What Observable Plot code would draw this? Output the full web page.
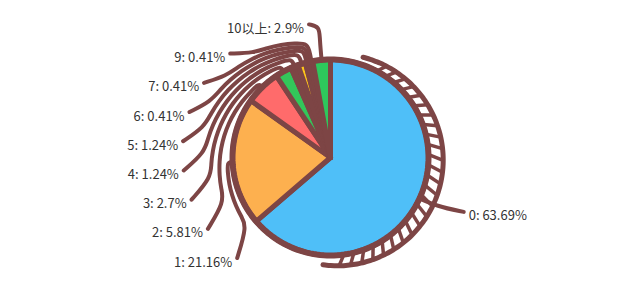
<!DOCTYPE html>
<html><head><meta charset="utf-8">
<script src="https://cdn.jsdelivr.net/npm/d3@7"></script>
<script src="https://cdn.jsdelivr.net/npm/@observablehq/plot@0.6"></script>
<style>body{margin:0;background:#fff}</style>
</head><body><div id="chart"></div>
<script>
const categories = ["0","1","2","3","4","5","6","7","9","10以上"];
const percents = [63.69,21.16,5.81,2.7,1.24,1.24,0.41,0.41,0.41,2.9];
const colors = ["#4fbff8","#fdb04f","#ff6b6b","#33c65a","#7d4545","#ffc61a","#7d4545","#7d4545","#7d4545","#2ec85c"];
const labels = categories.map((c,i)=>`${c}: ${percents[i]}%`);

const INK = "#7d4545";
const W = 640, H = 300, PX = 98, CX = 330, CY = 157;
const xDom = [-CX/PX, (W-CX)/PX], yDom = [-(H-CY)/PX, CY/PX];
const deg = Math.PI/180;

const arcs = d3.pie().sort(null).value(d=>d)(percents);
const P = (a, r) => [r*Math.sin(a), r*Math.cos(a)];
const mid = a => (a.startAngle + a.endAngle)/2;

// slice polygons
const slices = [];
arcs.forEach((a,i)=>{
  slices.push({k:categories[i], x:0, y:0});
  const n = Math.max(2, Math.ceil((a.endAngle-a.startAngle)/0.02));
  for (let j=0;j<=n;j++){
    const t = a.startAngle + (a.endAngle-a.startAngle)*j/n;
    const [x,y] = P(t,1);
    slices.push({k:categories[i], x, y});
  }
});
const rim = d3.range(0, 361, 2).map(d=>{const [x,y]=P(d*deg,1); return {x,y};});

// label layout
const ellA = 1.51, ellB = 1.38;
const lx = y => ellA*Math.sqrt(Math.max(0.02, 1-(y/ellB)**2));
const last = categories.length - 1;
const labelPos = categories.map((c,i)=>{
  if (i===0) { const y=-0.6; return {x: lx(y), y, side: 1}; }
  const y = -1.071 + 0.298*(i-1);
  if (i===last) return {x: P(mid(arcs[i]) - 4*deg, 1.37)[0], y, side: -1};
  return {x: -lx(y), y, side: -1};
});

// leader lines: rise from the slice, wind round the pie in a widening lane, hook to the label
const leaders = [];
arcs.forEach((a,i)=>{
  const k = categories[i];
  const m = mid(a);
  const lp = labelPos[i];
  const end = {k, x: lp.x, y: lp.y + 0.045};
  const p0 = P(m,0.95);
  leaders.push({k,x:p0[0],y:p0[1]});
  if (i===0 || i===last) {
    const p1 = P(m, i===0 ? 1.2 : 1.22);
    leaders.push({k,x:p1[0],y:p1[1]});
    if (i===last) leaders.push({k,x:p1[0],y:p1[1]+0.12});
    leaders.push(end);
    return;
  }
  const A = 1.06 + 0.045*(i-3), s = 0.0025 + 0.0006*(i-3);
  const lane = t => Math.max(1.05, A + s*(331 - t/deg));
  let phi = Math.atan2(lp.x, lp.y); if (phi<0) phi += 2*Math.PI;
  const stop = phi + 9*deg;
  const span = Math.max(0, m - stop);
  const n = Math.max(1, Math.ceil(span/(7*deg)));
  const pm = P(m, (0.97 + lane(m))/2);
  leaders.push({k,x:pm[0],y:pm[1]});
  for (let j=0;j<=n;j++){
    const t = m - span*j/n;
    const [x,y] = P(t, lane(t));
    leaders.push({k,x,y});
  }
  leaders.push(end);
});

// decorative ring on the right (sketch shadow)
const oc = [0.07, -0.025], oR = 1.08;
const outerT = a => { const u=[Math.sin(a),Math.cos(a)]; const ud=u[0]*oc[0]+u[1]*oc[1];
  return ud + Math.sqrt(ud*ud - (oc[0]**2+oc[1]**2) + oR*oR); };
const ring = d3.range(18, 186, 2).map(d=>{ const a=d*deg; const [x,y]=P(a, Math.max(1, outerT(a))); return {x,y}; });
const rungs = d3.range(30, 176, 6).map(d=>{ const a=d*deg; const [x1,y1]=P(a-1.5*deg,1.01); const [x2,y2]=P(a+1.5*deg,outerT(a)); return {x1,y1,x2,y2}; });

const textData = labels.map((t,i)=>({t, x: labelPos[i].x + labelPos[i].side*0.05, y: labelPos[i].y, side: labelPos[i].side}));

const chart = Plot.plot({
  width: W, height: H, margin: 0,
  x: {domain: xDom, axis: null},
  y: {domain: yDom, axis: null},
  color: {domain: categories, range: colors},
  style: {fontFamily: "'Noto Sans CJK SC', 'Noto Sans', sans-serif", background: "#fff"},
  marks: [
    Plot.line(ring, {x:"x", y:"y", stroke: INK, strokeWidth: 5, strokeLinecap: "round", curve: "catmull-rom"}),
    Plot.link(rungs, {x1:"x1", y1:"y1", x2:"x2", y2:"y2", stroke: INK, strokeWidth: 3.5}),
    Plot.line(leaders, {x:"x", y:"y", z:"k", stroke: INK, strokeWidth: 4, strokeLinecap: "round", strokeLinejoin: "round", curve: "basis"}),
    Plot.line(slices, {x:"x", y:"y", z:"k", fill:"k", stroke: INK, strokeWidth: 5, strokeLinejoin: "round", curve: "linear-closed"}),
    Plot.line(rim, {x:"x", y:"y", stroke: INK, strokeWidth: 6}),
    Plot.text(textData.filter(d=>d.side<0), {x:"x", y:"y", text:"t", textAnchor:"end", fontSize: 13, fill:"#333"}),
    Plot.text(textData.filter(d=>d.side>0), {x:"x", y:"y", text:"t", textAnchor:"start", fontSize: 13, fill:"#333"})
  ]
});
document.getElementById("chart").append(chart);
</script>
</body></html>
